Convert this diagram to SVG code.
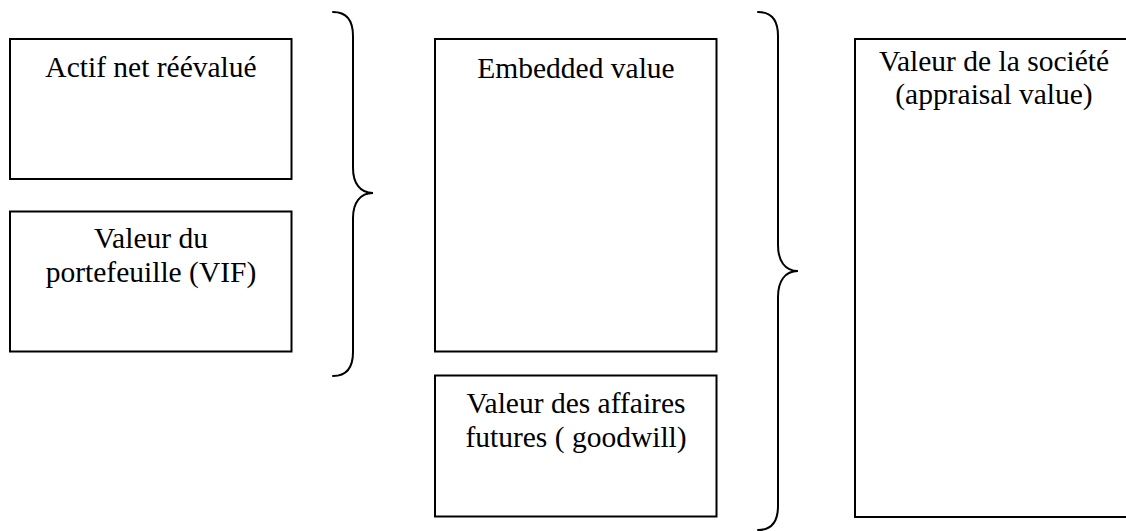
<svg xmlns="http://www.w3.org/2000/svg" width="1126" height="531" viewBox="0 0 1126 531">
<style>
.box{fill:#fff;stroke:#000;stroke-width:2}
.brace{fill:none;stroke:#000;stroke-width:2;stroke-linecap:round}
</style>
<rect width="1126" height="531" fill="#fff"/>
<g font-family="Liberation Serif, Times New Roman, DejaVu Serif, serif" font-size="29.5" text-anchor="middle" fill="#000">
<g id="actif">
<rect class="box" x="10" y="39" width="281.5" height="140"/>
<text x="151" y="77">Actif net réévalué</text>
</g>
<g id="vif">
<rect class="box" x="10" y="211.5" width="281.5" height="140"/>
<text x="151" y="248">Valeur du</text>
<text x="151" y="282">portefeuille (VIF)</text>
</g>
<g id="embedded">
<rect class="box" x="435" y="39" width="281.5" height="312.5"/>
<text x="576" y="78">Embedded value</text>
</g>
<g id="goodwill">
<rect class="box" x="435" y="375.5" width="281.5" height="141"/>
<text x="576" y="413">Valeur des affaires</text>
<text x="576" y="447">futures ( goodwill)</text>
</g>
<g id="societe">
<rect class="box" x="855" y="39" width="290" height="478"/>
<text x="994" y="71">Valeur de la société</text>
<text x="994" y="104">(appraisal value)</text>
</g>
</g>
<g id="connectors">
<path class="brace" d="M333,12 C346,12 353,20 353,36 L353,168 C353,183 360,193 373,193 C360,193 353,203 353,218 L353,352 C353,368 346,376 333,376"/>
<path class="brace" d="M758,12 C771,12 778,20 778,36 L778,245 C778,261 785,271 798,271 C785,271 778,281 778,297 L778,506 C778,522 771,530 758,530"/>
</g>
</svg>
